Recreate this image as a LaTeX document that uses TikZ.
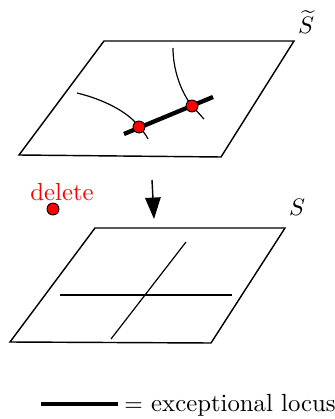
\documentclass[tikz,border=0pt]{standalone}
\usepackage{amsmath, amssymb}
\usepackage{xcolor}
\usepackage{tikz}
\usetikzlibrary{arrows.meta, calc}

\begin{document}
\begin{tikzpicture}[
    x=0.42pt, y=-0.42pt,
    every node/.style={font=\fontsize{10.4pt}{12pt}\selectfont},
    plane/.style={draw, line width=0.6pt, line join=miter},
    curve/.style={draw, line width=0.5pt},
    locus/.style={draw, line width=1.8pt},
    blowpt/.style={circle, draw, fill=red, inner sep=0pt, minimum size=5pt, line width=0.4pt},
    arrow/.style={line width=0.6pt, -{Triangle[length=9pt, width=6.5pt]}}
]
\useasboundingbox (0,0) rectangle (335,419);

% Top surface: blow-up
\coordinate (t1) at (104,41);
\coordinate (t2) at (294,41);
\coordinate (t3) at (221,157);
\coordinate (t4) at (19,155);
\draw[plane] (t1) -- (t2) -- (t3) -- (t4) -- cycle;
\node (stilde) at (306,22) {$\widetilde{S}$};

% Strict transforms and exceptional curve
\coordinate (e1) at (124,134);
\coordinate (e2) at (213,97);
\coordinate (p1) at (139,127);
\coordinate (p2) at (192,106);
\draw[curve] (77,93) .. controls (110,101) and (132,116) .. (p1) .. controls (143,131) and (146,135) .. (148,139);
\draw[curve] (173,48) .. controls (173,70) and (181,92) .. (p2) .. controls (197,111) and (201,116) .. (204,119);
\draw[locus] (e1) -- (e2);
\node[blowpt] (d1) at (p1) {};
\node[blowpt] (d2) at (p2) {};

% Blow-down map
\coordinate (a1) at (152,180);
\coordinate (a2) at (154,219);
\draw[arrow] (a1) -- (a2);
\node[red] (del) at (62,192) {delete};
\node[blowpt] (deldot) at (53,209) {};

% Bottom surface
\coordinate (b1) at (95,228);
\coordinate (b2) at (285,228);
\coordinate (b3) at (211,343);
\coordinate (b4) at (10,342);
\draw[plane] (b1) -- (b2) -- (b3) -- (b4) -- cycle;
\node (s) at (297,207) {$S$};
\coordinate (h1) at (60,295);
\coordinate (h2) at (232,295);
\coordinate (v1) at (186,242);
\coordinate (v2) at (111,339);
\draw[curve] (h1) -- (h2);
\draw[curve] (v1) -- (v2);

% Legend
\coordinate (l1) at (41,404);
\coordinate (l2) at (118,404);
\draw[locus] (l1) -- (l2);
\node[anchor=west, inner sep=0pt] (leg) at (124,405) {$=$ exceptional locus};

\end{tikzpicture}
\end{document}
